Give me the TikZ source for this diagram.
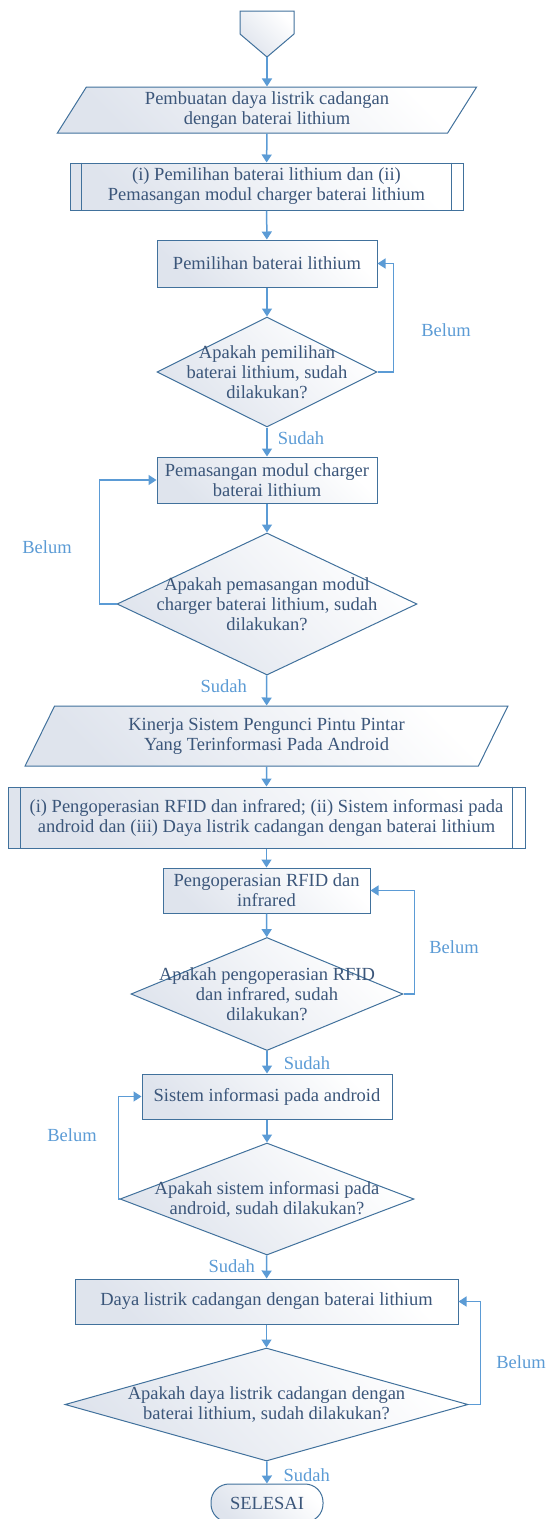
\documentclass[tikz,border=0pt]{standalone}
\usepackage{fontspec}
\setmainfont{Liberation Serif}
\usetikzlibrary{shapes.geometric,arrows.meta}
\definecolor{textc}{RGB}{59,86,122}
\definecolor{linec}{RGB}{65,113,156}
\definecolor{arrowc}{RGB}{91,155,213}
\definecolor{fillc}{RGB}{223,228,237}

\begin{document}
\begin{tikzpicture}[x=1pt,y=-1pt,font=\fontsize{18.5}{20}\selectfont,
  shadebox/.style={draw=linec,line width=1pt,top color=white,bottom color=fillc,shading angle=-45,
    text=textc,align=center,inner sep=0pt},
  proc/.style 2 args={shadebox,rectangle,minimum width=#1,minimum height=#2},
  ask/.style 2 args={shadebox,diamond,minimum width=#1,minimum height=#2},
  io/.style 2 args={shadebox,trapezium,trapezium stretches=true,trapezium left angle=62,
    trapezium right angle=118,minimum width=#1,minimum height=#2},
  txt/.style={text=textc,align=center,inner sep=0pt},
  lbl/.style={text=arrowc,inner sep=0pt},
  flow/.style={draw=arrowc,line width=1.5pt,-{Triangle[length=8pt,width=10pt]}}]
  \useasboundingbox (0,0) rectangle (547,1519);

  \draw[shadebox] (240,11)--(294,11)--(294,34)--(267,57)--(240,34)--cycle;
  \coordinate (start) at (267,57);

  \node[io={420}{46}] (par1) at (267,110) {Pembuatan daya listrik cadangan\\dengan baterai lithium};
  \node[proc={393}{47}] (sp1) at (266.5,186.5) {(i) Pemilihan baterai lithium dan (ii)\\Pemasangan modul charger baterai lithium};
  \node[proc={220}{47}] (r1) at (267,263.5) {Pemilihan baterai lithium};
  \node[ask={220}{110}] (d1) at (267,372) {};
  \node[txt] (q1) at (d1) {Apakah pemilihan\\baterai lithium, sudah\\dilakukan?};
  \node[proc={220}{46}] (r2) at (267,480) {Pemasangan modul charger\\baterai lithium};
  \node[ask={300}{142}] (d2) at (267,604) {};
  \node[txt] (q2) at (d2) {Apakah pemasangan modul\\charger baterai lithium, sudah\\dilakukan?};
  \node[io={483}{60}] (par2) at (266.5,736) {Kinerja Sistem Pengunci Pintu Pintar\\Yang Terinformasi Pada Android};
  \node[proc={517}{61}] (sp2) at (266.5,817.5) {(i) Pengoperasian RFID dan infrared; (ii) Sistem informasi pada\\android dan (iii) Daya listrik cadangan dengan baterai lithium};
  \node[proc={207}{45}] (r3) at (266.5,890.5) {Pengoperasian RFID dan\\infrared};
  \node[ask={272}{113}] (d3) at (267,994) {};
  \node[txt] (q3) at (d3) {Apakah pengoperasian RFID\\dan infrared, sudah\\dilakukan?};
  \node[proc={250}{45}] (r4) at (267,1096.5) {Sistem informasi pada android};
  \node[ask={294}{112}] (d4) at (267,1199) {};
  \node[txt] (q4) at (d4) {Apakah sistem informasi pada\\android, sudah dilakukan?};
  \node[proc={383}{45}] (r5) at (266.5,1301.5) {Daya listrik cadangan dengan baterai lithium};
  \node[ask={403}{113}] (d5) at (266.5,1404.5) {};
  \node[txt] (q5) at (d5) {Apakah daya listrik cadangan dengan\\baterai lithium, sudah dilakukan?};
  \node[shadebox,rectangle,rounded corners=18,minimum width=112,minimum height=38] (stop) at (267,1503) {SELESAI};

  \foreach \n/\d in {sp1/12,sp2/13} {
    \draw[linec,line width=1pt] ([xshift=\d]\n.north west) -- ([xshift=\d]\n.south west);
    \draw[linec,line width=1pt] ([xshift=-\d]\n.north east) -- ([xshift=-\d]\n.south east);
  }

  \draw[flow] (start) -- (par1);
  \draw[flow] (par1) -- (sp1);
  \draw[flow] (sp1) -- (r1);
  \draw[flow] (r1) -- (d1);
  \draw[flow] (d1) -- node[lbl,pos=0.37,right=10pt] (s1) {Sudah} (r2);
  \draw[flow] (r2) -- (d2);
  \draw[flow] (d2) -- node[lbl,pos=0.35,left=19pt] (s2) {Sudah} (par2);
  \draw[flow] (par2) -- (sp2);
  \draw[flow] (sp2) -- (r3);
  \draw[flow] (r3) -- (d3);
  \draw[flow] (d3) -- node[lbl,pos=0.52,right=16pt] (s3) {Sudah} (r4);
  \draw[flow] (r4) -- (d4);
  \draw[flow] (d4) -- node[lbl,pos=0.46,left=11pt] (s4) {Sudah} (r5);
  \draw[flow] (r5) -- (d5);
  \draw[flow] (d5) -- node[lbl,pos=0.6,right=16pt] (s5) {Sudah} (stop);

  \draw[flow] (d1.east) -- ++(16,0) |- (r1.east);
  \draw[flow] (d2.west) -- ++(-17,0) |- (r2.west);
  \draw[flow] (d3.east) -- ++(11,0) |- (r3.east);
  \draw[flow] (d4.west) -- ++(-1,0) |- (r4.west);
  \draw[flow] (d5.east) -- ++(12,0) |- (r5.east);
  \node[lbl] (b1) at (446,330) {Belum};
  \node[lbl] (b2) at (47,547) {Belum};
  \node[lbl] (b3) at (454,947) {Belum};
  \node[lbl] (b4) at (72,1135) {Belum};
  \node[lbl] (b5) at (521,1362) {Belum};
\end{tikzpicture}
\end{document}
